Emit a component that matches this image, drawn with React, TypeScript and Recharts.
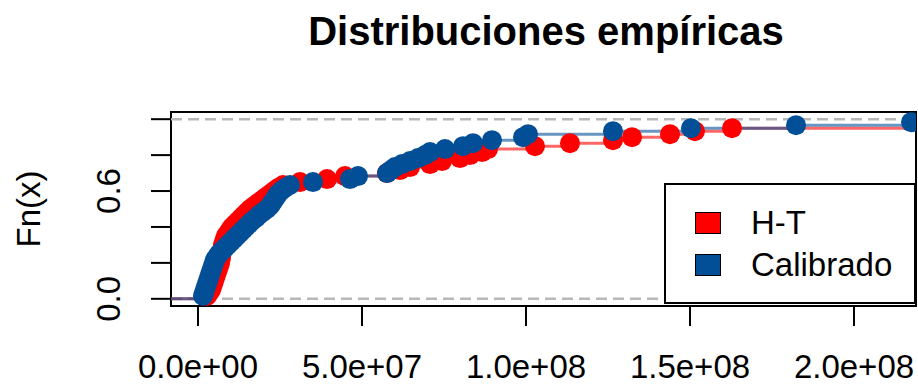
import {
  ComposedChart,
  Line,
  XAxis,
  YAxis,
  ReferenceLine,
  ReferenceArea,
} from "recharts";

// sample values (millions), sorted
const htValues = [
  2.74, 3.35, 3.96, 4.27, 4.57, 4.88, 5.18, 5.49, 5.79, 6.1, 6.4, 6.71, 6.86,
  7.01, 7.16, 7.32, 7.47, 7.62, 7.93, 8.23, 8.54, 9.15, 9.76, 10.37, 11.28,
  12.2, 13.11, 14.02, 14.94, 15.85, 17.07, 18.29, 19.51, 20.73, 21.95, 23.17,
  24.39, 25.91, 31.1, 39.33, 44.82, 57.62, 61.59, 64.63, 70.73, 74.39, 79.88,
  82.93, 86.59, 88.41, 102.74, 113.41, 126.52, 132.32, 143.9, 151.52, 162.8,
  232.3, 247.6, 275.0,
];

const calValues = [
  1.52, 1.83, 2.13, 2.44, 2.74, 3.05, 3.35, 3.66, 3.96, 4.27, 4.57, 4.88, 5.18,
  5.79, 6.4, 7.32, 8.23, 9.15, 10.06, 10.98, 11.89, 12.8, 13.72, 14.63, 15.55,
  16.46, 17.68, 18.6, 19.82, 21.04, 21.95, 22.56, 23.17, 23.78, 24.39, 25.3,
  26.52, 28.05, 35.06, 46.34, 48.78, 57.62, 58.84, 60.06, 62.2, 64.63, 67.07,
  69.21, 70.73, 75.3, 80.79, 83.84, 89.63, 99.09, 100.61, 126.52, 150.3,
  182.32, 217.38, 241.5,
];

const xDomain: [number, number] = [-8.23e6, 2.189e8];
const yDomain: [number, number] = [-0.04, 1.04];
const xTicks = [0, 5e7, 1e8, 1.5e8, 2e8];
const xTickLabels = ["0.0e+00", "5.0e+07", "1.0e+08", "1.5e+08", "2.0e+08"];
const yTicks = [0, 0.2, 0.4, 0.6, 0.8, 1];
const yTickLabels = ["0.0", "", "", "0.6", "", ""];

const RED = "#ff0000";
const BLUE = "#034f97";
const FONT = "'Liberation Sans', Arial, Helvetica, sans-serif";

// empirical cdf: step k/n at each sorted value, plus a start at the left edge
const ecdf = (vals: number[]) => [
  { x: xDomain[0], y: 0, start: true },
  ...vals.map((v, i) => ({ x: v * 1e6, y: (i + 1) / vals.length, start: false })),
];

const htData = ecdf(htValues);
const calData = ecdf(calValues);

const makeDot = (color: string) => (props: any) => {
  const { cx, cy, payload, index } = props;
  if (payload.start) return <g key={`s${index}`} />;
  return <circle key={`d${index}`} cx={cx} cy={cy} r={10} fill={color} />;
};

const XTick = ({ x, y, payload }: any) => {
  const i = xTicks.indexOf(payload.value);
  return (
    <text x={x} y={y + 50} textAnchor="middle" fontSize={33} fill="#000" fontFamily={FONT}>
      {xTickLabels[i]}
    </text>
  );
};

const YTick = ({ x, y, payload }: any) => {
  const i = yTicks.indexOf(payload.value);
  return (
    <text
      transform={`translate(${x - 29},${y}) rotate(-90)`}
      textAnchor="middle"
      fontSize={33}
      fill="#000"
      fontFamily={FONT}
    >
      {yTickLabels[i]}
    </text>
  );
};

export default function App() {
  return (
    <div
      style={{
        position: "absolute",
        left: 0,
        top: 0,
        width: 918,
        height: 387,
        background: "#fff",
        fontFamily: FONT,
        overflow: "hidden",
      }}
    >
      {/* Title */}
      <div
        style={{
          position: "absolute",
          left: 546,
          top: 11,
          transform: "translateX(-50%)",
          whiteSpace: "nowrap",
          fontSize: 40,
          lineHeight: "40px",
          fontWeight: "bold",
          color: "#000",
        }}
      >
        Distribuciones empíricas
      </div>

      {/* Y label */}
      <div
        style={{
          position: "absolute",
          left: 28,
          top: 209,
          transform: "translate(-50%, -50%) rotate(-90deg)",
          whiteSpace: "nowrap",
          fontSize: 33,
          lineHeight: "33px",
          color: "#000",
        }}
      >
        Fn(x)
      </div>

      <ComposedChart
        width={918}
        height={387}
        margin={{ top: 112, right: 2, bottom: 0, left: 0 }}
        style={{ position: "absolute", left: 0, top: 0 }}
      >
        <XAxis
          type="number"
          dataKey="x"
          domain={xDomain}
          ticks={xTicks}
          allowDataOverflow
          height={81}
          tickSize={20}
          axisLine={false}
          stroke="#000"
          tickLine={{ strokeWidth: 2 }}
          tick={<XTick />}
          interval={0}
        />
        <YAxis
          type="number"
          dataKey="y"
          domain={yDomain}
          ticks={yTicks}
          allowDataOverflow
          width={171}
          tickSize={20}
          axisLine={false}
          stroke="#000"
          tickLine={{ strokeWidth: 2 }}
          tick={<YTick />}
          interval={0}
        />
        <ReferenceLine y={0} stroke="#b8b8b8" strokeWidth={2.5} strokeDasharray="11 6" />
        <ReferenceLine y={1} stroke="#b8b8b8" strokeWidth={2.5} strokeDasharray="11 6" />
        <Line
          data={htData}
          dataKey="y"
          type="stepAfter"
          stroke={RED}
          strokeOpacity={0.6}
          strokeWidth={3}
          dot={makeDot(RED)}
          activeDot={false}
          isAnimationActive={false}
        />
        <Line
          data={calData}
          dataKey="y"
          type="stepAfter"
          stroke={BLUE}
          strokeOpacity={0.6}
          strokeWidth={3}
          dot={makeDot(BLUE)}
          activeDot={false}
          isAnimationActive={false}
        />
        <ReferenceArea
          x1={xDomain[0]}
          x2={xDomain[1]}
          y1={yDomain[0]}
          y2={yDomain[1]}
          fill="none"
          fillOpacity={0}
          stroke="#000"
          strokeWidth={2}
        />
      </ComposedChart>

      {/* Legend */}
      <div
        style={{
          position: "absolute",
          left: 664,
          top: 183,
          width: 252,
          height: 121,
          boxSizing: "border-box",
          border: "2px solid #000",
          background: "#fff",
        }}
      >
        {[
          { name: "H-T", color: RED, top: 27 },
          { name: "Calibrado", color: BLUE, top: 69 },
        ].map((item) => (
          <div key={item.name}>
            <div
              style={{
                position: "absolute",
                left: 29,
                top: item.top,
                width: 26,
                height: 22,
                boxSizing: "border-box",
                border: "1px solid #000",
                background: item.color,
              }}
            />
            <div
              style={{
                position: "absolute",
                left: 85,
                top: item.top - 6,
                fontSize: 33,
                lineHeight: "33px",
                whiteSpace: "nowrap",
                color: "#000",
              }}
            >
              {item.name}
            </div>
          </div>
        ))}
      </div>
    </div>
  );
}
